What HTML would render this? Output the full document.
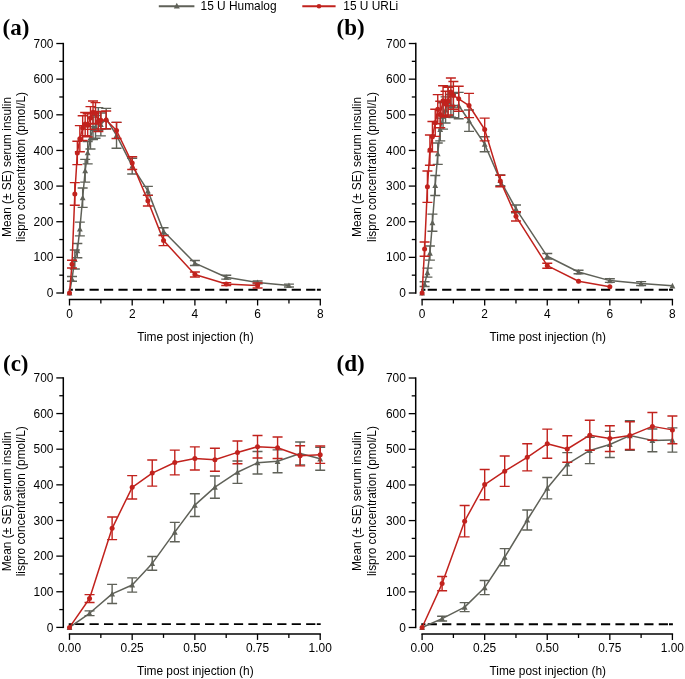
<!DOCTYPE html>
<html><head><meta charset="utf-8"><style>
html,body{margin:0;padding:0;background:#fff;}
body{width:685px;height:679px;overflow:hidden;font-family:"Liberation Sans", sans-serif;}
svg{display:block;will-change:transform;}
</style></head><body>
<svg width="685" height="679" viewBox="0 0 685 679">
<rect width="685" height="679" fill="#fff"/>
<path d="M158.8 6.2H194.4" stroke="#5f6158" stroke-width="2" fill="none"/>
<path d="M176.8 2.8L179.8 8.6L173.8 8.6Z" fill="#5f6158"/>
<text x="200.6" y="10.4" font-family="'Liberation Sans', sans-serif" font-size="11.9">15 U Humalog</text>
<path d="M302.3 6.2H335.6" stroke="#c1221d" stroke-width="2" fill="none"/>
<circle cx="319" cy="6.2" r="2.3" fill="#c1221d"/>
<text x="343.3" y="10.4" font-family="'Liberation Sans', sans-serif" font-size="11.9">15 U URLi</text>
<text x="2.6" y="35" font-family="'Liberation Serif', serif" font-weight="bold" font-size="23">(a)</text>
<g stroke="#000" fill="none">
<path d="M63.3 42.82V293.7" stroke-width="1.5"/>
<path d="M56.3 293H63.3" stroke-width="1.3"/>
<path d="M59.3 275.18H63.3" stroke-width="1.3"/>
<path d="M56.3 257.36H63.3" stroke-width="1.3"/>
<path d="M59.3 239.54H63.3" stroke-width="1.3"/>
<path d="M56.3 221.72H63.3" stroke-width="1.3"/>
<path d="M59.3 203.9H63.3" stroke-width="1.3"/>
<path d="M56.3 186.08H63.3" stroke-width="1.3"/>
<path d="M59.3 168.26H63.3" stroke-width="1.3"/>
<path d="M56.3 150.44H63.3" stroke-width="1.3"/>
<path d="M59.3 132.62H63.3" stroke-width="1.3"/>
<path d="M56.3 114.8H63.3" stroke-width="1.3"/>
<path d="M59.3 96.98H63.3" stroke-width="1.3"/>
<path d="M56.3 79.16H63.3" stroke-width="1.3"/>
<path d="M59.3 61.34H63.3" stroke-width="1.3"/>
<path d="M56.3 43.52H63.3" stroke-width="1.3"/>
<path d="M68.8 299.5H321" stroke-width="1.5"/>
<path d="M69.5 299.5V305.5" stroke-width="1.3"/>
<path d="M100.85 299.5V303.5" stroke-width="1.3"/>
<path d="M132.2 299.5V305.5" stroke-width="1.3"/>
<path d="M163.55 299.5V303.5" stroke-width="1.3"/>
<path d="M194.9 299.5V305.5" stroke-width="1.3"/>
<path d="M226.25 299.5V303.5" stroke-width="1.3"/>
<path d="M257.6 299.5V305.5" stroke-width="1.3"/>
<path d="M288.95 299.5V303.5" stroke-width="1.3"/>
<path d="M320.3 299.5V305.5" stroke-width="1.3"/>
</g>
<g font-family="'Liberation Sans', sans-serif" font-size="11.9" fill="#000">
<text x="53.4" y="297.1" text-anchor="end">0</text>
<text x="53.4" y="261.46" text-anchor="end">100</text>
<text x="53.4" y="225.82" text-anchor="end">200</text>
<text x="53.4" y="190.18" text-anchor="end">300</text>
<text x="53.4" y="154.54" text-anchor="end">400</text>
<text x="53.4" y="118.9" text-anchor="end">500</text>
<text x="53.4" y="83.26" text-anchor="end">600</text>
<text x="53.4" y="47.62" text-anchor="end">700</text>
<text x="69.5" y="317.6" text-anchor="middle">0</text>
<text x="132.2" y="317.6" text-anchor="middle">2</text>
<text x="194.9" y="317.6" text-anchor="middle">4</text>
<text x="257.6" y="317.6" text-anchor="middle">6</text>
<text x="320.3" y="317.6" text-anchor="middle">8</text>
<text x="195.4" y="340.8" text-anchor="middle">Time post injection (h)</text>
<text transform="translate(10.5 167) rotate(-90)" text-anchor="middle">Mean (± SE) serum insulin</text>
<text transform="translate(24.7 167) rotate(-90)" text-anchor="middle">lispro concentration (pmol/L)</text>
</g>
<path d="M68.7 289.75H72.8M75.1 289.75H84.3M89.54 289.75H98.74M103.98 289.75H113.18M118.42 289.75H127.62M132.86 289.75H142.06M147.3 289.75H156.5M161.74 289.75H170.94M176.18 289.75H185.38M190.62 289.75H199.82M205.06 289.75H214.26M219.5 289.75H228.7M233.94 289.75H243.14M248.38 289.75H257.58M262.82 289.75H272.02M277.26 289.75H286.46M291.7 289.75H300.9M306.14 289.75H315.34M316.9 289.75H320.8" stroke="#000" stroke-width="1.9" fill="none"/>
<path d="M72.01 276.5V281.27M67.01 276.5H77.01M67.01 281.27H77.01M74.83 249.95V269.05M69.83 249.95H79.83M69.83 269.05H79.83M77.34 243.46V257.72M72.34 243.46H82.34M72.34 257.72H82.34M79.85 222.08V235.9M74.85 222.08H84.85M74.85 235.9H84.85M82.67 188V207.39M77.67 188H87.67M77.67 207.39H87.67M85.17 159.35V182.16M80.17 159.35H90.17M80.17 182.16H90.17M87.68 141.53V163.84M82.68 141.53H92.68M82.68 163.84H92.68M90.5 126.67V148.98M85.5 126.67H95.5M85.5 148.98H95.5M93.01 117.08V139.61M88.01 117.08H98.01M88.01 139.61H98.01M95.52 115.51V138.32M90.52 115.51H100.52M90.52 138.32H100.52M98.34 107.67V130.48M93.34 107.67H103.34M93.34 130.48H103.34M100.85 113.02V135.83M95.85 113.02H105.85M95.85 135.83H105.85M106.18 108.38V129.06M101.18 108.38H111.18M101.18 129.06H111.18M116.53 122.39V148.19M111.53 122.39H121.53M111.53 148.19H121.53M132.2 158.28V173.96M127.2 158.28H137.2M127.2 173.96H137.2M147.88 186.4V195.31M142.88 186.4H152.88M142.88 195.31H152.88M163.55 227.78V234.91M158.55 227.78H168.55M158.55 234.91H168.55M194.9 260.57V265.56M189.9 260.57H199.9M189.9 265.56H199.9M226.25 275.25V279.17M221.25 275.25H231.25M221.25 279.17H231.25M257.6 280.99V283.84M252.6 280.99H262.6M252.6 283.84H262.6M288.95 284.09V286.94M283.95 284.09H293.95M283.95 286.94H293.95" stroke="#5f6158" stroke-width="1.4" fill="none"/>
<polyline points="69.5,293 72.01,278.89 74.83,259.5 77.34,250.59 79.85,228.99 82.67,197.7 85.17,170.75 87.68,152.69 90.5,137.82 93.01,128.34 95.52,126.92 98.34,119.08 100.85,124.42 106.18,118.72 116.53,135.29 132.2,166.12 147.88,190.86 163.55,231.34 194.9,263.06 226.25,277.21 257.6,282.41 288.95,285.52" stroke="#5f6158" stroke-width="1.5" fill="none" stroke-linejoin="round"/>
<g fill="#5f6158"><path d="M69.5 290L72.4 295.6L66.6 295.6Z"/><path d="M72.01 275.89L74.91 281.49L69.11 281.49Z"/><path d="M74.83 256.5L77.73 262.1L71.93 262.1Z"/><path d="M77.34 247.59L80.24 253.19L74.44 253.19Z"/><path d="M79.85 225.99L82.75 231.59L76.95 231.59Z"/><path d="M82.67 194.7L85.57 200.3L79.77 200.3Z"/><path d="M85.17 167.75L88.08 173.35L82.27 173.35Z"/><path d="M87.68 149.69L90.58 155.29L84.78 155.29Z"/><path d="M90.5 134.82L93.4 140.42L87.6 140.42Z"/><path d="M93.01 125.34L95.91 130.94L90.11 130.94Z"/><path d="M95.52 123.92L98.42 129.52L92.62 129.52Z"/><path d="M98.34 116.08L101.24 121.68L95.44 121.68Z"/><path d="M100.85 121.42L103.75 127.02L97.95 127.02Z"/><path d="M106.18 115.72L109.08 121.32L103.28 121.32Z"/><path d="M116.53 132.29L119.43 137.89L113.62 137.89Z"/><path d="M132.2 163.12L135.1 168.72L129.3 168.72Z"/><path d="M147.88 187.86L150.78 193.46L144.97 193.46Z"/><path d="M163.55 228.34L166.45 233.94L160.65 233.94Z"/><path d="M194.9 260.06L197.8 265.66L192 265.66Z"/><path d="M226.25 274.21L229.15 279.81L223.35 279.81Z"/><path d="M257.6 279.41L260.5 285.01L254.7 285.01Z"/><path d="M288.95 282.52L291.85 288.12L286.05 288.12Z"/></g>
<path d="M72.01 260.21V268.05M67.01 260.21H77.01M67.01 268.05H77.01M74.83 182.62V205.22M69.83 182.62H79.83M69.83 205.22H79.83M77.34 141.24V164.62M72.34 141.24H82.34M72.34 164.62H82.34M79.85 125.67V151.69M74.85 125.67H84.85M74.85 151.69H84.85M82.67 115.69V140.5M77.67 115.69H87.67M77.67 140.5H87.67M85.17 112.48V135.65M80.17 112.48H90.17M80.17 135.65H90.17M87.68 113.8V136.83M82.68 113.8H92.68M82.68 136.83H92.68M90.5 106.6V129.41M85.5 106.6H95.5M85.5 129.41H95.5M93.01 101.04V123.57M88.01 101.04H98.01M88.01 123.57H98.01M95.52 102.61V124.14M90.52 102.61H100.52M90.52 124.14H100.52M98.34 111.34V131.44M93.34 111.34H103.34M93.34 131.44H103.34M100.85 111.63V128.95M95.85 111.63H105.85M95.85 128.95H105.85M106.18 110.99V128.81M101.18 110.99H111.18M101.18 128.81H111.18M116.53 122.39V138.57M111.53 122.39H121.53M111.53 138.57H121.53M132.2 156.68V169.51M127.2 156.68H137.2M127.2 169.51H137.2M147.88 195.35V206.04M142.88 195.35H152.88M142.88 206.04H152.88M163.55 235.62V245.6M158.55 235.62H168.55M158.55 245.6H168.55M194.9 271.97V276.96M189.9 271.97H199.9M189.9 276.96H199.9M226.25 282.66V285.52M221.25 282.66H231.25M221.25 285.52H231.25M257.6 283.02V288.01M252.6 283.02H262.6M252.6 288.01H262.6" stroke="#c1221d" stroke-width="1.4" fill="none"/>
<polyline points="69.5,293 72.01,264.13 74.83,193.92 77.34,152.93 79.85,138.68 82.67,128.09 85.17,124.07 87.68,125.31 90.5,118.01 93.01,112.31 95.52,113.37 98.34,121.39 100.85,120.29 106.18,119.9 116.53,130.48 132.2,163.09 147.88,200.69 163.55,240.61 194.9,274.47 226.25,284.09 257.6,285.52" stroke="#c1221d" stroke-width="1.5" fill="none" stroke-linejoin="round"/>
<g fill="#c1221d"><circle cx="69.5" cy="293" r="2.5"/><circle cx="72.01" cy="264.13" r="2.5"/><circle cx="74.83" cy="193.92" r="2.5"/><circle cx="77.34" cy="152.93" r="2.5"/><circle cx="79.85" cy="138.68" r="2.5"/><circle cx="82.67" cy="128.09" r="2.5"/><circle cx="85.17" cy="124.07" r="2.5"/><circle cx="87.68" cy="125.31" r="2.5"/><circle cx="90.5" cy="118.01" r="2.5"/><circle cx="93.01" cy="112.31" r="2.5"/><circle cx="95.52" cy="113.37" r="2.5"/><circle cx="98.34" cy="121.39" r="2.5"/><circle cx="100.85" cy="120.29" r="2.5"/><circle cx="106.18" cy="119.9" r="2.5"/><circle cx="116.53" cy="130.48" r="2.5"/><circle cx="132.2" cy="163.09" r="2.5"/><circle cx="147.88" cy="200.69" r="2.5"/><circle cx="163.55" cy="240.61" r="2.5"/><circle cx="194.9" cy="274.47" r="2.5"/><circle cx="226.25" cy="284.09" r="2.5"/><circle cx="257.6" cy="285.52" r="2.5"/></g>
<text x="336.6" y="35.2" font-family="'Liberation Serif', serif" font-weight="bold" font-size="23">(b)</text>
<g stroke="#000" fill="none">
<path d="M415.8 42.82V293.7" stroke-width="1.5"/>
<path d="M408.8 293H415.8" stroke-width="1.3"/>
<path d="M411.8 275.18H415.8" stroke-width="1.3"/>
<path d="M408.8 257.36H415.8" stroke-width="1.3"/>
<path d="M411.8 239.54H415.8" stroke-width="1.3"/>
<path d="M408.8 221.72H415.8" stroke-width="1.3"/>
<path d="M411.8 203.9H415.8" stroke-width="1.3"/>
<path d="M408.8 186.08H415.8" stroke-width="1.3"/>
<path d="M411.8 168.26H415.8" stroke-width="1.3"/>
<path d="M408.8 150.44H415.8" stroke-width="1.3"/>
<path d="M411.8 132.62H415.8" stroke-width="1.3"/>
<path d="M408.8 114.8H415.8" stroke-width="1.3"/>
<path d="M411.8 96.98H415.8" stroke-width="1.3"/>
<path d="M408.8 79.16H415.8" stroke-width="1.3"/>
<path d="M411.8 61.34H415.8" stroke-width="1.3"/>
<path d="M408.8 43.52H415.8" stroke-width="1.3"/>
<path d="M421.4 299.5H673.12" stroke-width="1.5"/>
<path d="M422.1 299.5V305.5" stroke-width="1.3"/>
<path d="M453.39 299.5V303.5" stroke-width="1.3"/>
<path d="M484.68 299.5V305.5" stroke-width="1.3"/>
<path d="M515.97 299.5V303.5" stroke-width="1.3"/>
<path d="M547.26 299.5V305.5" stroke-width="1.3"/>
<path d="M578.55 299.5V303.5" stroke-width="1.3"/>
<path d="M609.84 299.5V305.5" stroke-width="1.3"/>
<path d="M641.13 299.5V303.5" stroke-width="1.3"/>
<path d="M672.42 299.5V305.5" stroke-width="1.3"/>
</g>
<g font-family="'Liberation Sans', sans-serif" font-size="11.9" fill="#000">
<text x="405.9" y="297.1" text-anchor="end">0</text>
<text x="405.9" y="261.46" text-anchor="end">100</text>
<text x="405.9" y="225.82" text-anchor="end">200</text>
<text x="405.9" y="190.18" text-anchor="end">300</text>
<text x="405.9" y="154.54" text-anchor="end">400</text>
<text x="405.9" y="118.9" text-anchor="end">500</text>
<text x="405.9" y="83.26" text-anchor="end">600</text>
<text x="405.9" y="47.62" text-anchor="end">700</text>
<text x="422.1" y="317.6" text-anchor="middle">0</text>
<text x="484.68" y="317.6" text-anchor="middle">2</text>
<text x="547.26" y="317.6" text-anchor="middle">4</text>
<text x="609.84" y="317.6" text-anchor="middle">6</text>
<text x="672.42" y="317.6" text-anchor="middle">8</text>
<text x="547.76" y="340.8" text-anchor="middle">Time post injection (h)</text>
<text transform="translate(361.3 167) rotate(-90)" text-anchor="middle">Mean (± SE) serum insulin</text>
<text transform="translate(375.5 167) rotate(-90)" text-anchor="middle">lispro concentration (pmol/L)</text>
</g>
<path d="M421.3 289.75H425.4M427.7 289.75H436.9M442.14 289.75H451.34M456.58 289.75H465.78M471.02 289.75H480.22M485.46 289.75H494.66M499.9 289.75H509.1M514.34 289.75H523.54M528.78 289.75H537.98M543.22 289.75H552.42M557.66 289.75H566.86M572.1 289.75H581.3M586.54 289.75H595.74M600.98 289.75H610.18M615.42 289.75H624.62M629.86 289.75H639.06M644.3 289.75H653.5M658.74 289.75H667.94M669.02 289.75H672.92" stroke="#000" stroke-width="1.9" fill="none"/>
<path d="M424.6 281.74V286.44M419.6 281.74H429.6M419.6 286.44H429.6M427.42 268.12V277.1M422.42 268.12H432.42M422.42 277.1H432.42M429.92 246.03V260.14M424.92 246.03H434.92M424.92 260.14H434.92M432.43 214.16V231.27M427.43 214.16H437.43M427.43 231.27H437.43M435.24 175.53V195.49M430.24 175.53H440.24M430.24 195.49H440.24M437.75 143.03V164.41M432.75 143.03H442.75M432.75 164.41H442.75M440.25 118.11V140.92M435.25 118.11H445.25M435.25 140.92H445.25M443.06 102.79V129.16M438.06 102.79H448.06M438.06 129.16H448.06M445.57 96.91V123.07M440.57 96.91H450.57M440.57 123.07H450.57M448.07 86.32V115.83M443.07 86.32H453.07M443.07 115.83H453.07M450.89 94.49V117.29M445.89 94.49H455.89M445.89 117.29H455.89M453.39 93.42V117.65M448.39 93.42H458.39M448.39 117.65H458.39M458.71 92.35V118.72M453.71 92.35H463.71M453.71 118.72H463.71M469.04 110.02V131.41M464.04 110.02H474.04M464.04 131.41H474.04M484.68 136.72V151.69M479.68 136.72H489.68M479.68 151.69H489.68M500.33 175.03V185.72M495.33 175.03H505.33M495.33 185.72H505.33M515.97 204.97V212.81M510.97 204.97H520.97M510.97 212.81H520.97M547.26 253.44V259.14M542.26 253.44H552.26M542.26 259.14H552.26M578.55 270.19V273.75M573.55 270.19H583.55M573.55 273.75H583.55M609.84 278.82V282.38M604.84 278.82H614.84M604.84 282.38H614.84M641.13 281.6V285.52M636.13 281.6H646.13M636.13 285.52H646.13" stroke="#5f6158" stroke-width="1.4" fill="none"/>
<polyline points="422.1,293 424.6,284.09 427.42,272.61 429.92,253.08 432.43,222.72 435.24,185.51 437.75,153.72 440.25,129.52 443.06,115.98 445.57,109.99 448.07,101.08 450.89,105.89 453.39,105.53 458.71,105.53 469.04,120.72 484.68,144.2 500.33,180.38 515.97,208.89 547.26,256.29 578.55,271.97 609.84,280.6 641.13,283.56 672.42,285.87" stroke="#5f6158" stroke-width="1.5" fill="none" stroke-linejoin="round"/>
<g fill="#5f6158"><path d="M422.1 290L425 295.6L419.2 295.6Z"/><path d="M424.6 281.09L427.5 286.69L421.7 286.69Z"/><path d="M427.42 269.61L430.32 275.21L424.52 275.21Z"/><path d="M429.92 250.08L432.82 255.68L427.02 255.68Z"/><path d="M432.43 219.72L435.33 225.32L429.53 225.32Z"/><path d="M435.24 182.51L438.14 188.11L432.34 188.11Z"/><path d="M437.75 150.72L440.64 156.32L434.85 156.32Z"/><path d="M440.25 126.52L443.15 132.12L437.35 132.12Z"/><path d="M443.06 112.98L445.96 118.58L440.16 118.58Z"/><path d="M445.57 106.99L448.47 112.59L442.67 112.59Z"/><path d="M448.07 98.08L450.97 103.68L445.17 103.68Z"/><path d="M450.89 102.89L453.79 108.49L447.99 108.49Z"/><path d="M453.39 102.53L456.29 108.13L450.49 108.13Z"/><path d="M458.71 102.53L461.61 108.13L455.81 108.13Z"/><path d="M469.04 117.72L471.94 123.32L466.14 123.32Z"/><path d="M484.68 141.2L487.58 146.8L481.78 146.8Z"/><path d="M500.33 177.38L503.23 182.98L497.43 182.98Z"/><path d="M515.97 205.89L518.87 211.49L513.07 211.49Z"/><path d="M547.26 253.29L550.16 258.89L544.36 258.89Z"/><path d="M578.55 268.97L581.45 274.57L575.65 274.57Z"/><path d="M609.84 277.6L612.74 283.2L606.94 283.2Z"/><path d="M641.13 280.56L644.03 286.16L638.23 286.16Z"/><path d="M672.42 282.87L675.32 288.47L669.52 288.47Z"/></g>
<path d="M424.6 242V256.18M419.6 242H429.6M419.6 256.18H429.6M427.42 171.04V202.33M422.42 171.04H432.42M422.42 202.33H432.42M429.92 134.94V165.23M424.92 134.94H434.92M424.92 165.23H434.92M432.43 121.54V151.9M427.43 121.54H437.43M427.43 151.9H437.43M435.24 109.31V136.33M430.24 109.31H440.24M430.24 136.33H440.24M437.75 94.66V123.75M432.75 94.66H442.75M432.75 123.75H442.75M440.25 101.22V127.81M435.25 101.22H445.25M435.25 127.81H445.25M443.06 85.75V115.69M438.06 85.75H448.06M438.06 115.69H448.06M445.57 91.28V116.94M440.57 91.28H450.57M440.57 116.94H450.57M448.07 87.21V115.01M443.07 87.21H453.07M443.07 115.01H453.07M450.89 77.98V105.78M445.89 77.98H455.89M445.89 105.78H455.89M453.39 81.48V109.28M448.39 81.48H458.39M448.39 109.28H458.39M458.71 86.29V111.24M453.71 86.29H463.71M453.71 111.24H463.71M469.04 93.42V117.65M464.04 93.42H474.04M464.04 117.65H474.04M484.68 118.11V140.92M479.68 118.11H489.68M479.68 140.92H489.68M500.33 175.28V186.69M495.33 175.28H505.33M495.33 186.69H505.33M515.97 211.74V221.01M510.97 211.74H520.97M510.97 221.01H520.97M547.26 263.2V268.19M542.26 263.2H552.26M542.26 268.19H552.26" stroke="#c1221d" stroke-width="1.4" fill="none"/>
<polyline points="422.1,293 424.6,249.09 427.42,186.69 429.92,150.08 432.43,136.72 435.24,122.82 437.75,109.2 440.25,114.51 443.06,100.72 445.57,104.11 448.07,101.11 450.89,91.88 453.39,95.38 458.71,98.76 469.04,105.53 484.68,129.52 500.33,180.98 515.97,216.37 547.26,265.7 578.55,281.24 609.84,286.69" stroke="#c1221d" stroke-width="1.5" fill="none" stroke-linejoin="round"/>
<g fill="#c1221d"><circle cx="422.1" cy="293" r="2.5"/><circle cx="424.6" cy="249.09" r="2.5"/><circle cx="427.42" cy="186.69" r="2.5"/><circle cx="429.92" cy="150.08" r="2.5"/><circle cx="432.43" cy="136.72" r="2.5"/><circle cx="435.24" cy="122.82" r="2.5"/><circle cx="437.75" cy="109.2" r="2.5"/><circle cx="440.25" cy="114.51" r="2.5"/><circle cx="443.06" cy="100.72" r="2.5"/><circle cx="445.57" cy="104.11" r="2.5"/><circle cx="448.07" cy="101.11" r="2.5"/><circle cx="450.89" cy="91.88" r="2.5"/><circle cx="453.39" cy="95.38" r="2.5"/><circle cx="458.71" cy="98.76" r="2.5"/><circle cx="469.04" cy="105.53" r="2.5"/><circle cx="484.68" cy="129.52" r="2.5"/><circle cx="500.33" cy="180.98" r="2.5"/><circle cx="515.97" cy="216.37" r="2.5"/><circle cx="547.26" cy="265.7" r="2.5"/><circle cx="578.55" cy="281.24" r="2.5"/><circle cx="609.84" cy="286.69" r="2.5"/></g>
<text x="3" y="371.3" font-family="'Liberation Serif', serif" font-weight="bold" font-size="23">(c)</text>
<g stroke="#000" fill="none">
<path d="M63.3 377.22V628.1" stroke-width="1.5"/>
<path d="M56.3 627.4H63.3" stroke-width="1.3"/>
<path d="M59.3 609.58H63.3" stroke-width="1.3"/>
<path d="M56.3 591.76H63.3" stroke-width="1.3"/>
<path d="M59.3 573.94H63.3" stroke-width="1.3"/>
<path d="M56.3 556.12H63.3" stroke-width="1.3"/>
<path d="M59.3 538.3H63.3" stroke-width="1.3"/>
<path d="M56.3 520.48H63.3" stroke-width="1.3"/>
<path d="M59.3 502.66H63.3" stroke-width="1.3"/>
<path d="M56.3 484.84H63.3" stroke-width="1.3"/>
<path d="M59.3 467.02H63.3" stroke-width="1.3"/>
<path d="M56.3 449.2H63.3" stroke-width="1.3"/>
<path d="M59.3 431.38H63.3" stroke-width="1.3"/>
<path d="M56.3 413.56H63.3" stroke-width="1.3"/>
<path d="M59.3 395.74H63.3" stroke-width="1.3"/>
<path d="M56.3 377.92H63.3" stroke-width="1.3"/>
<path d="M68.8 633.9H320.9" stroke-width="1.5"/>
<path d="M69.5 633.9V639.9" stroke-width="1.3"/>
<path d="M100.84 633.9V637.9" stroke-width="1.3"/>
<path d="M132.18 633.9V639.9" stroke-width="1.3"/>
<path d="M163.51 633.9V637.9" stroke-width="1.3"/>
<path d="M194.85 633.9V639.9" stroke-width="1.3"/>
<path d="M226.19 633.9V637.9" stroke-width="1.3"/>
<path d="M257.52 633.9V639.9" stroke-width="1.3"/>
<path d="M288.86 633.9V637.9" stroke-width="1.3"/>
<path d="M320.2 633.9V639.9" stroke-width="1.3"/>
</g>
<g font-family="'Liberation Sans', sans-serif" font-size="11.9" fill="#000">
<text x="53.4" y="631.5" text-anchor="end">0</text>
<text x="53.4" y="595.86" text-anchor="end">100</text>
<text x="53.4" y="560.22" text-anchor="end">200</text>
<text x="53.4" y="524.58" text-anchor="end">300</text>
<text x="53.4" y="488.94" text-anchor="end">400</text>
<text x="53.4" y="453.3" text-anchor="end">500</text>
<text x="53.4" y="417.66" text-anchor="end">600</text>
<text x="53.4" y="382.02" text-anchor="end">700</text>
<text x="69.5" y="652" text-anchor="middle">0.00</text>
<text x="132.18" y="652" text-anchor="middle">0.25</text>
<text x="194.85" y="652" text-anchor="middle">0.50</text>
<text x="257.52" y="652" text-anchor="middle">0.75</text>
<text x="320.2" y="652" text-anchor="middle">1.00</text>
<text x="195.35" y="675.2" text-anchor="middle">Time post injection (h)</text>
<text transform="translate(10.5 501.3) rotate(-90)" text-anchor="middle">Mean (± SE) serum insulin</text>
<text transform="translate(24.7 501.3) rotate(-90)" text-anchor="middle">lispro concentration (pmol/L)</text>
</g>
<path d="M68.7 624.15H72.8M75.1 624.15H84.3M89.54 624.15H98.74M103.98 624.15H113.18M118.42 624.15H127.62M132.86 624.15H142.06M147.3 624.15H156.5M161.74 624.15H170.94M176.18 624.15H185.38M190.62 624.15H199.82M205.06 624.15H214.26M219.5 624.15H228.7M233.94 624.15H243.14M248.38 624.15H257.58M262.82 624.15H272.02M277.26 624.15H286.46M291.7 624.15H300.9M306.14 624.15H315.34M316.8 624.15H320.7" stroke="#000" stroke-width="1.9" fill="none"/>
<path d="M89.56 610.9V615.67M84.56 610.9H94.56M84.56 615.67H94.56M112.12 584.35V603.45M107.12 584.35H117.12M107.12 603.45H117.12M132.18 577.86V592.12M127.18 577.86H137.18M127.18 592.12H137.18M152.23 556.48V570.3M147.23 556.48H157.23M147.23 570.3H157.23M174.79 522.4V541.79M169.79 522.4H179.79M169.79 541.79H179.79M194.85 493.75V516.56M189.85 493.75H199.85M189.85 516.56H199.85M214.91 475.93V498.24M209.91 475.93H219.91M209.91 498.24H219.91M237.47 461.07V483.38M232.47 461.07H242.47M232.47 483.38H242.47M257.52 451.48V474.01M252.52 451.48H262.52M252.52 474.01H262.52M277.58 449.91V472.72M272.58 449.91H282.58M272.58 472.72H282.58M300.14 442.07V464.88M295.14 442.07H305.14M295.14 464.88H305.14M320.2 447.42V470.23M315.2 447.42H325.2M315.2 470.23H325.2" stroke="#5f6158" stroke-width="1.4" fill="none"/>
<polyline points="69.5,627.4 89.56,613.29 112.12,593.9 132.18,584.99 152.23,563.39 174.79,532.1 194.85,505.15 214.91,487.09 237.47,472.22 257.52,462.74 277.58,461.32 300.14,453.48 320.2,458.82" stroke="#5f6158" stroke-width="1.5" fill="none" stroke-linejoin="round"/>
<g fill="#5f6158"><path d="M69.5 624.4L72.4 630L66.6 630Z"/><path d="M89.56 610.29L92.46 615.89L86.66 615.89Z"/><path d="M112.12 590.9L115.02 596.5L109.22 596.5Z"/><path d="M132.18 581.99L135.08 587.59L129.28 587.59Z"/><path d="M152.23 560.39L155.13 565.99L149.33 565.99Z"/><path d="M174.79 529.1L177.69 534.7L171.89 534.7Z"/><path d="M194.85 502.15L197.75 507.75L191.95 507.75Z"/><path d="M214.91 484.09L217.81 489.69L212.01 489.69Z"/><path d="M237.47 469.22L240.37 474.82L234.57 474.82Z"/><path d="M257.52 459.74L260.42 465.34L254.62 465.34Z"/><path d="M277.58 458.32L280.48 463.92L274.68 463.92Z"/><path d="M300.14 450.48L303.04 456.08L297.24 456.08Z"/><path d="M320.2 455.82L323.1 461.42L317.3 461.42Z"/></g>
<path d="M89.56 594.61V602.45M84.56 594.61H94.56M84.56 602.45H94.56M112.12 517.02V539.62M107.12 517.02H117.12M107.12 539.62H117.12M132.18 475.64V499.02M127.18 475.64H137.18M127.18 499.02H137.18M152.23 460.07V486.09M147.23 460.07H157.23M147.23 486.09H157.23M174.79 450.09V474.9M169.79 450.09H179.79M169.79 474.9H179.79M194.85 446.88V470.05M189.85 446.88H199.85M189.85 470.05H199.85M214.91 448.2V471.23M209.91 448.2H219.91M209.91 471.23H219.91M237.47 441V463.81M232.47 441H242.47M232.47 463.81H242.47M257.52 435.44V457.97M252.52 435.44H262.52M252.52 457.97H262.52M277.58 437.01V458.54M272.58 437.01H282.58M272.58 458.54H282.58M300.14 445.74V465.84M295.14 445.74H305.14M295.14 465.84H305.14M320.2 446.03V463.35M315.2 446.03H325.2M315.2 463.35H325.2" stroke="#c1221d" stroke-width="1.4" fill="none"/>
<polyline points="69.5,627.4 89.56,598.53 112.12,528.32 132.18,487.33 152.23,473.08 174.79,462.49 194.85,458.47 214.91,459.71 237.47,452.41 257.52,446.71 277.58,447.77 300.14,455.79 320.2,454.69" stroke="#c1221d" stroke-width="1.5" fill="none" stroke-linejoin="round"/>
<g fill="#c1221d"><circle cx="69.5" cy="627.4" r="2.5"/><circle cx="89.56" cy="598.53" r="2.5"/><circle cx="112.12" cy="528.32" r="2.5"/><circle cx="132.18" cy="487.33" r="2.5"/><circle cx="152.23" cy="473.08" r="2.5"/><circle cx="174.79" cy="462.49" r="2.5"/><circle cx="194.85" cy="458.47" r="2.5"/><circle cx="214.91" cy="459.71" r="2.5"/><circle cx="237.47" cy="452.41" r="2.5"/><circle cx="257.52" cy="446.71" r="2.5"/><circle cx="277.58" cy="447.77" r="2.5"/><circle cx="300.14" cy="455.79" r="2.5"/><circle cx="320.2" cy="454.69" r="2.5"/></g>
<text x="336.6" y="371.3" font-family="'Liberation Serif', serif" font-weight="bold" font-size="23">(d)</text>
<g stroke="#000" fill="none">
<path d="M415.7 377.32V628.2" stroke-width="1.5"/>
<path d="M408.7 627.5H415.7" stroke-width="1.3"/>
<path d="M411.7 609.68H415.7" stroke-width="1.3"/>
<path d="M408.7 591.86H415.7" stroke-width="1.3"/>
<path d="M411.7 574.04H415.7" stroke-width="1.3"/>
<path d="M408.7 556.22H415.7" stroke-width="1.3"/>
<path d="M411.7 538.4H415.7" stroke-width="1.3"/>
<path d="M408.7 520.58H415.7" stroke-width="1.3"/>
<path d="M411.7 502.76H415.7" stroke-width="1.3"/>
<path d="M408.7 484.94H415.7" stroke-width="1.3"/>
<path d="M411.7 467.12H415.7" stroke-width="1.3"/>
<path d="M408.7 449.3H415.7" stroke-width="1.3"/>
<path d="M411.7 431.48H415.7" stroke-width="1.3"/>
<path d="M408.7 413.66H415.7" stroke-width="1.3"/>
<path d="M411.7 395.84H415.7" stroke-width="1.3"/>
<path d="M408.7 378.02H415.7" stroke-width="1.3"/>
<path d="M421.4 634H673.1" stroke-width="1.5"/>
<path d="M422.1 634V640" stroke-width="1.3"/>
<path d="M453.39 634V638" stroke-width="1.3"/>
<path d="M484.68 634V640" stroke-width="1.3"/>
<path d="M515.96 634V638" stroke-width="1.3"/>
<path d="M547.25 634V640" stroke-width="1.3"/>
<path d="M578.54 634V638" stroke-width="1.3"/>
<path d="M609.83 634V640" stroke-width="1.3"/>
<path d="M641.11 634V638" stroke-width="1.3"/>
<path d="M672.4 634V640" stroke-width="1.3"/>
</g>
<g font-family="'Liberation Sans', sans-serif" font-size="11.9" fill="#000">
<text x="405.8" y="631.6" text-anchor="end">0</text>
<text x="405.8" y="595.96" text-anchor="end">100</text>
<text x="405.8" y="560.32" text-anchor="end">200</text>
<text x="405.8" y="524.68" text-anchor="end">300</text>
<text x="405.8" y="489.04" text-anchor="end">400</text>
<text x="405.8" y="453.4" text-anchor="end">500</text>
<text x="405.8" y="417.76" text-anchor="end">600</text>
<text x="405.8" y="382.12" text-anchor="end">700</text>
<text x="422.1" y="652.1" text-anchor="middle">0.00</text>
<text x="484.68" y="652.1" text-anchor="middle">0.25</text>
<text x="547.25" y="652.1" text-anchor="middle">0.50</text>
<text x="609.83" y="652.1" text-anchor="middle">0.75</text>
<text x="672.4" y="652.1" text-anchor="middle">1.00</text>
<text x="547.75" y="675.3" text-anchor="middle">Time post injection (h)</text>
<text transform="translate(361.3 501.1) rotate(-90)" text-anchor="middle">Mean (± SE) serum insulin</text>
<text transform="translate(375.5 501.1) rotate(-90)" text-anchor="middle">lispro concentration (pmol/L)</text>
</g>
<path d="M421.3 624.25H425.4M427.7 624.25H436.9M442.14 624.25H451.34M456.58 624.25H465.78M471.02 624.25H480.22M485.46 624.25H494.66M499.9 624.25H509.1M514.34 624.25H523.54M528.78 624.25H537.98M543.22 624.25H552.42M557.66 624.25H566.86M572.1 624.25H581.3M586.54 624.25H595.74M600.98 624.25H610.18M615.42 624.25H624.62M629.86 624.25H639.06M644.3 624.25H653.5M658.74 624.25H667.94M669 624.25H672.9" stroke="#000" stroke-width="1.9" fill="none"/>
<path d="M442.12 616.24V620.94M437.12 616.24H447.12M437.12 620.94H447.12M464.65 602.62V611.6M459.65 602.62H469.65M459.65 611.6H469.65M484.68 580.53V594.64M479.68 580.53H489.68M479.68 594.64H489.68M504.7 548.66V565.77M499.7 548.66H509.7M499.7 565.77H509.7M527.23 510.03V529.99M522.23 510.03H532.23M522.23 529.99H532.23M547.25 477.53V498.91M542.25 477.53H552.25M542.25 498.91H552.25M567.27 452.61V475.42M562.27 452.61H572.27M562.27 475.42H572.27M589.8 437.29V463.66M584.8 437.29H594.8M584.8 463.66H594.8M609.83 431.41V457.57M604.83 431.41H614.83M604.83 457.57H614.83M629.85 420.82V450.33M624.85 420.82H634.85M624.85 450.33H634.85M652.38 428.99V451.79M647.38 428.99H657.38M647.38 451.79H657.38M672.4 427.92V452.15M667.4 427.92H677.4M667.4 452.15H677.4" stroke="#5f6158" stroke-width="1.4" fill="none"/>
<polyline points="422.1,627.5 442.12,618.59 464.65,607.11 484.68,587.58 504.7,557.22 527.23,520.01 547.25,488.22 567.27,464.02 589.8,450.48 609.83,444.49 629.85,435.58 652.38,440.39 672.4,440.03" stroke="#5f6158" stroke-width="1.5" fill="none" stroke-linejoin="round"/>
<g fill="#5f6158"><path d="M422.1 624.5L425 630.1L419.2 630.1Z"/><path d="M442.12 615.59L445.02 621.19L439.22 621.19Z"/><path d="M464.65 604.11L467.55 609.71L461.75 609.71Z"/><path d="M484.68 584.58L487.57 590.18L481.78 590.18Z"/><path d="M504.7 554.22L507.6 559.82L501.8 559.82Z"/><path d="M527.23 517.01L530.13 522.61L524.33 522.61Z"/><path d="M547.25 485.22L550.15 490.82L544.35 490.82Z"/><path d="M567.27 461.02L570.17 466.62L564.37 466.62Z"/><path d="M589.8 447.48L592.7 453.08L586.9 453.08Z"/><path d="M609.83 441.49L612.73 447.09L606.93 447.09Z"/><path d="M629.85 432.58L632.75 438.18L626.95 438.18Z"/><path d="M652.38 437.39L655.28 442.99L649.48 442.99Z"/><path d="M672.4 437.03L675.3 442.63L669.5 442.63Z"/></g>
<path d="M442.12 576.5V590.68M437.12 576.5H447.12M437.12 590.68H447.12M464.65 505.54V536.83M459.65 505.54H469.65M459.65 536.83H469.65M484.68 469.44V499.73M479.68 469.44H489.68M479.68 499.73H489.68M504.7 456.04V486.4M499.7 456.04H509.7M499.7 486.4H509.7M527.23 443.81V470.83M522.23 443.81H532.23M522.23 470.83H532.23M547.25 429.16V458.25M542.25 429.16H552.25M542.25 458.25H552.25M567.27 435.72V462.31M562.27 435.72H572.27M562.27 462.31H572.27M589.8 420.25V450.19M584.8 420.25H594.8M584.8 450.19H594.8M609.83 425.78V451.44M604.83 425.78H614.83M604.83 451.44H614.83M629.85 421.71V449.51M624.85 421.71H634.85M624.85 449.51H634.85M652.38 412.48V440.28M647.38 412.48H657.38M647.38 440.28H657.38M672.4 415.98V443.78M667.4 415.98H677.4M667.4 443.78H677.4" stroke="#c1221d" stroke-width="1.4" fill="none"/>
<polyline points="422.1,627.5 442.12,583.59 464.65,521.19 484.68,484.58 504.7,471.22 527.23,457.32 547.25,443.7 567.27,449.01 589.8,435.22 609.83,438.61 629.85,435.61 652.38,426.38 672.4,429.88" stroke="#c1221d" stroke-width="1.5" fill="none" stroke-linejoin="round"/>
<g fill="#c1221d"><circle cx="422.1" cy="627.5" r="2.5"/><circle cx="442.12" cy="583.59" r="2.5"/><circle cx="464.65" cy="521.19" r="2.5"/><circle cx="484.68" cy="484.58" r="2.5"/><circle cx="504.7" cy="471.22" r="2.5"/><circle cx="527.23" cy="457.32" r="2.5"/><circle cx="547.25" cy="443.7" r="2.5"/><circle cx="567.27" cy="449.01" r="2.5"/><circle cx="589.8" cy="435.22" r="2.5"/><circle cx="609.83" cy="438.61" r="2.5"/><circle cx="629.85" cy="435.61" r="2.5"/><circle cx="652.38" cy="426.38" r="2.5"/><circle cx="672.4" cy="429.88" r="2.5"/></g>
</svg>
</body></html>
